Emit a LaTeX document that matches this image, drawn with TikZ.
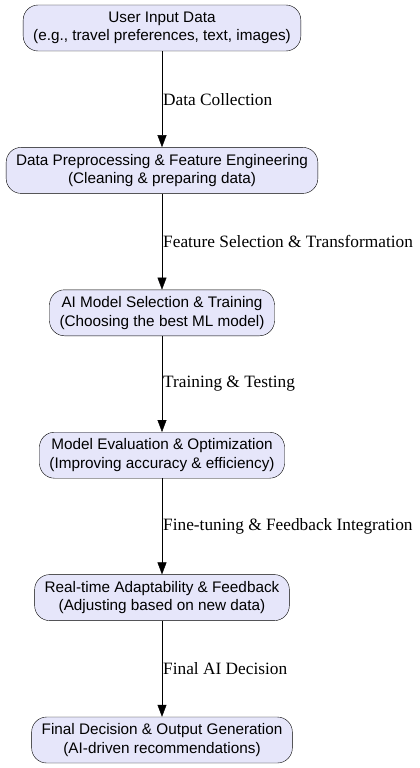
\documentclass[tikz,border=0pt]{standalone}
\usepackage{fontspec}
\setmainfont{Liberation Serif}
\newfontfamily\boxfont{Liberation Sans}
\usetikzlibrary{positioning,arrows.meta}

\begin{document}
\begin{tikzpicture}[x=1pt,y=1pt,
	stage/.style={draw=black,fill=lavender,rounded corners=15pt,align=center,
		minimum height=46pt,inner xsep=10pt,inner ysep=2pt,
		font=\boxfont\fontsize{15.3pt}{18.5pt}\selectfont},
	flow/.style={draw,-{Triangle[length=12pt,width=9pt]}},
	lbl/.style={right,inner sep=1pt,font=\fontsize{17.3pt}{19pt}\selectfont},
	node distance=96pt]
\definecolor{lavender}{HTML}{E6E6FA}
\useasboundingbox (0,0) rectangle (420,-768);
\node[stage] (input) at (162,-28) {User Input Data\\(e.g., travel preferences, text, images)};
\node[stage,below=of input] (prep) {Data Preprocessing \& Feature Engineering\\(Cleaning \& preparing data)};
\node[stage,below=of prep] (model) {AI Model Selection \& Training\\(Choosing the best ML model)};
\node[stage,below=of model] (eval) {Model Evaluation \& Optimization\\(Improving accuracy \& efficiency)};
\node[stage,below=of eval] (adapt) {Real-time Adaptability \& Feedback\\(Adjusting based on new data)};
\node[stage,below=of adapt] (final) {Final Decision \& Output Generation\\(AI-driven recommendations)};

\draw[flow] (input) -- node[lbl] {Data Collection} (prep);
\draw[flow] (prep) -- node[lbl] {Feature Selection \& Transformation} (model);
\draw[flow] (model) -- node[lbl] {Training \& Testing} (eval);
\draw[flow] (eval) -- node[lbl] {Fine-tuning \& Feedback Integration} (adapt);
\draw[flow] (adapt) -- node[lbl] {Final AI Decision} (final);
\end{tikzpicture}
\end{document}
